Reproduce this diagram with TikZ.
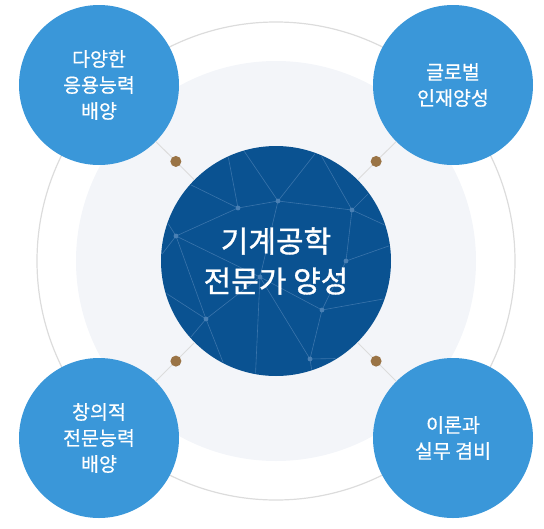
\documentclass[tikz,border=0pt]{standalone}
\usepackage{fontspec}
\newfontfamily\kr[FakeBold=0.6]{Noto Sans CJK KR}
\newfontfamily\krhead[FakeBold=1.1]{Noto Sans CJK KR}
\definecolor{deepblue}{HTML}{0A5291}
\definecolor{skyblue}{HTML}{3A97D9}
\definecolor{paleface}{HTML}{F3F5F9}
\definecolor{ringgray}{HTML}{DCDCDC}
\definecolor{netblue}{HTML}{4A80B4}
\definecolor{bronze}{HTML}{9A7446}
\tikzset{
  goal/.style={circle,fill=skyblue,minimum size=160pt,inner sep=0pt,
    text=white,align=center,font=\kr\fontsize{19.5}{26}\selectfont},
  web/.style={netblue,line width=0.6pt,opacity=0.75},
  knot/.style={circle,fill=bronze,inner sep=0pt,minimum size=11pt}
}
\begin{document}
\begin{tikzpicture}[x=1pt,y=-1pt]
\useasboundingbox (0,0) rectangle (544,528);
\coordinate (O) at (276,261);
\draw[ringgray,line width=1.2pt] (O) circle[radius=239];
\fill[paleface] (O) circle[radius=200];
\node[circle,fill=deepblue,minimum size=230pt,inner sep=0pt] (hub) at (O) {};
% network inside the hub
\foreach \n/\x/\y in {a/238/208,b/278/201,c/352/210,d/176/236,e/346/261,
    f/260/277,g/322/310,h/206/319,i/310/359,
    r1/185/182,r2/226/145,r3/240/145,r4/318/150,r5/380/182,r6/400/232,
    r7/400/242,r8/400/296,r9/362/358,r10/314/385,r11/255/385,r12/232/385,
    r13/180/350,r14/158/288,r15/156/262,r16/162/214}
  \coordinate (\n) at (\x,\y);
\begin{scope}
\clip (O) circle[radius=114];
\foreach \s/\t in {r1/a,r2/a,a/b,b/c,r3/b,b/f,r4/b,r4/c,c/r5,c/r6,c/e,e/r7,
    e/g,g/r8,g/i,i/r9,i/r10,f/i,d/a,d/r16,d/r15,d/h,d/f,h/f,h/r14,h/r13,
    h/r12,f/r11,g/f}
  \draw[web] (\s) -- (\t);
\foreach \n in {a,b,c,d,e,f,g,h,i}
  \fill[netblue] (\n) circle[radius=2.4];
\end{scope}
\node[text=white,align=center,font=\krhead\fontsize{30}{40}\selectfont] (title) at (O) {기계공학\\전문가 양성};
% four goals
\node[goal] (tl) at (99,85) {다양한\\응용능력\\배양};
\node[goal] (tr) at (453,85) {글로벌\\인재양성};
\node[goal] (bl) at (99,438) {창의적\\전문능력\\배양};
\node[goal] (br) at (453,438) {이론과\\실무 겸비};
\foreach \g in {tl,tr,bl,br}
  \draw[ringgray,line width=0.9pt] (hub) -- (\g) node[knot,pos=0.48] (dot\g) {};
\end{tikzpicture}
\end{document}
